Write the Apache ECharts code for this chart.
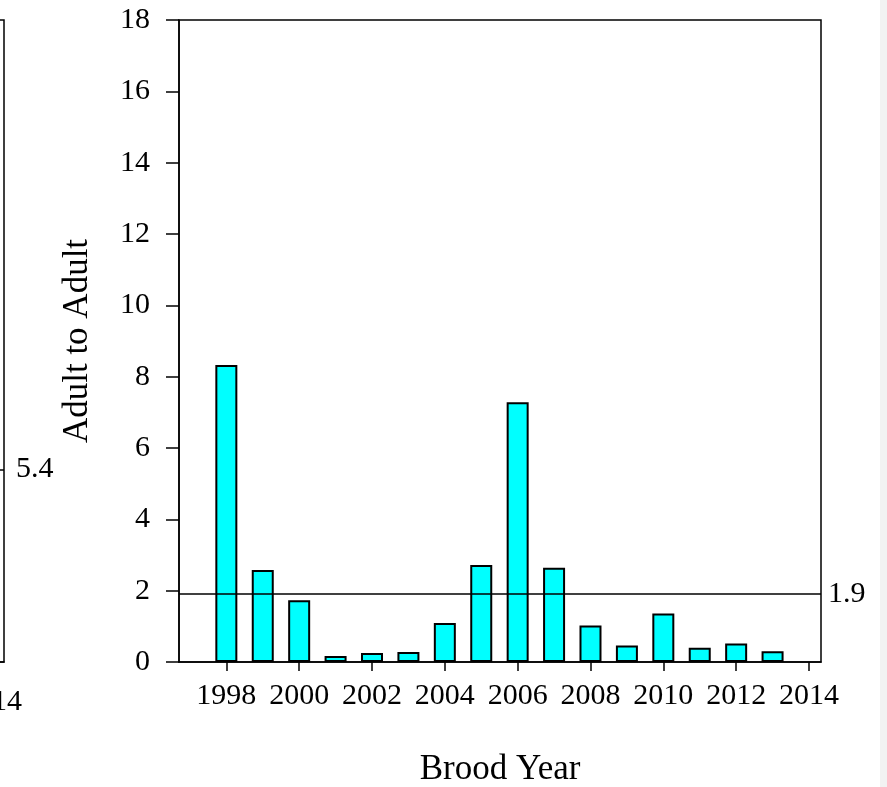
<!DOCTYPE html>
<html>
<head>
<meta charset="utf-8">
<script src="https://cdn.jsdelivr.net/npm/echarts@6/dist/echarts.min.js"></script>
<style>
    html, body { margin: 0; padding: 0; background: #fff; }
    #chart { width: 887px; height: 787px; }
</style>
</head>
<body>
<div id="chart"></div>
<script>
// brood years and adult-to-adult ratio
const years = [1998, 1999, 2000, 2001, 2002, 2003, 2004, 2005, 2006, 2007, 2008, 2009, 2010, 2011, 2012, 2013];
const adultToAdult = [8.33, 2.58, 1.73, 0.17, 0.25, 0.28, 1.09, 2.72, 7.28, 2.64, 1.02, 0.46, 1.36, 0.40, 0.52, 0.30];
const yearTicks = [1998, 2000, 2002, 2004, 2006, 2008, 2010, 2012, 2014];
const meanLine = 1.9;
// neighbouring panel, only its right edge is in the picture
const leftPanelLine = 5.4;
const leftPanelTicks = [2014];

const font = 'Liberation Serif';

const chart = echarts.init(document.getElementById('chart'));

const xBase = {
    type: 'value',
    min: 1996.7,
    max: 2014.33,
    splitLine: { show: false },
    axisLine: { show: true, onZero: false, lineStyle: { color: '#000', width: 1.5 } },
    axisTick: { show: true, length: 9, lineStyle: { color: '#000', width: 1.5 } },
    axisLabel: { color: '#000', fontFamily: font, fontSize: 30, margin: 19, formatter: v => String(v) }
};

const gridBase = {
    top: 20,
    width: 642,
    height: 642,
    show: true,
    borderColor: '#000',
    borderWidth: 1.5,
    backgroundColor: 'transparent',
    containLabel: false,
    outerBoundsMode: 'none'
};

const option = {
    animation: false,
    graphic: [
        { type: 'rect', shape: { x: 880, y: 0, width: 7, height: 787 }, style: { fill: '#f2f2f2' }, silent: true }
    ],
    grid: [
        Object.assign({}, gridBase, { left: -638 }),
        Object.assign({}, gridBase, { left: 179 })
    ],
    xAxis: [
        Object.assign({}, xBase, {
            gridIndex: 0,
            axisTick: Object.assign({}, xBase.axisTick, { customValues: leftPanelTicks }),
            axisLabel: Object.assign({}, xBase.axisLabel, { customValues: leftPanelTicks, margin: 25 })
        }),
        Object.assign({}, xBase, {
            gridIndex: 1,
            axisTick: Object.assign({}, xBase.axisTick, { customValues: yearTicks }),
            axisLabel: Object.assign({}, xBase.axisLabel, { customValues: yearTicks }),
            name: 'Brood Year',
            nameLocation: 'middle',
            nameGap: 90,
            nameTextStyle: { color: '#000', fontFamily: font, fontSize: 35 }
        })
    ],
    yAxis: [
        {
            gridIndex: 0,
            type: 'value',
            min: 0,
            max: 18,
            interval: 2,
            axisLine: { show: false },
            axisTick: { show: false },
            axisLabel: { show: false },
            splitLine: { show: false }
        },
        {
            gridIndex: 1,
            type: 'value',
            min: 0,
            max: 18,
            interval: 2,
            splitLine: { show: false },
            axisLine: { show: true, lineStyle: { color: '#000', width: 1.5 } },
            axisTick: { show: true, length: 13, lineStyle: { color: '#000', width: 1.5 } },
            axisLabel: { color: '#000', fontFamily: font, fontSize: 30, margin: 29 },
            name: 'Adult to Adult',
            nameLocation: 'middle',
            nameGap: 84,
            nameTextStyle: { color: '#000', fontFamily: font, fontSize: 35 }
        }
    ],
    series: [
        {
            type: 'line',
            xAxisIndex: 0,
            yAxisIndex: 0,
            data: [],
            markLine: {
                silent: true,
                symbol: 'none',
                lineStyle: { color: '#000', width: 1.5, type: 'solid' },
                label: { position: 'end', distance: 12, color: '#000', fontFamily: font, fontSize: 30, formatter: String(leftPanelLine) },
                data: [{ yAxis: leftPanelLine }]
            }
        },
        {
            type: 'bar',
            xAxisIndex: 1,
            yAxisIndex: 1,
            barWidth: 22,
            itemStyle: { color: '#00ffff', borderColor: '#000', borderWidth: 2 },
            data: years.map((y, i) => [y, adultToAdult[i]]),
            markLine: {
                silent: true,
                symbol: 'none',
                lineStyle: { color: '#000', width: 1.5, type: 'solid' },
                label: { position: 'end', distance: 7, color: '#000', fontFamily: font, fontSize: 30, formatter: String(meanLine) },
                data: [{ yAxis: meanLine }]
            }
        }
    ]
};

chart.setOption(option);
</script>
</body>
</html>
